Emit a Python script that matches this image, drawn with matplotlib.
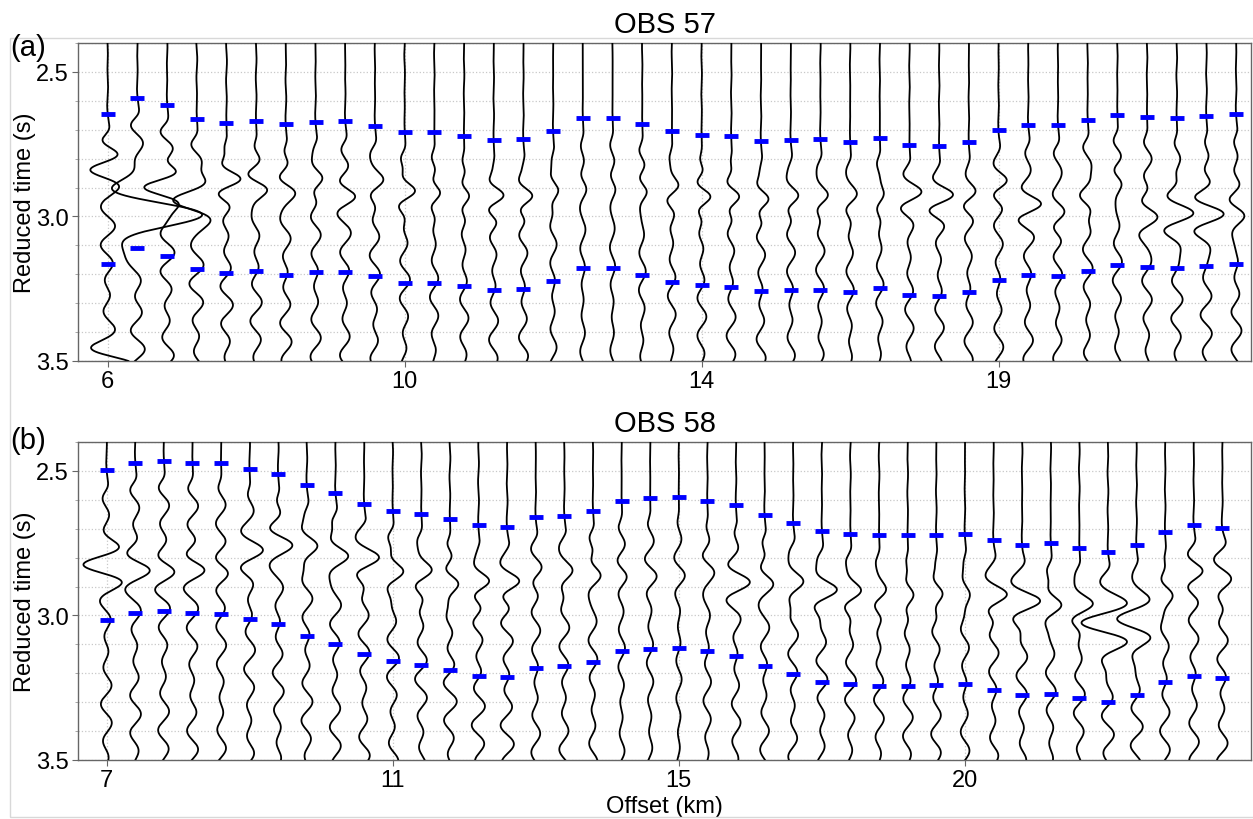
import numpy as np
import matplotlib
matplotlib.use('Agg')
import matplotlib.pyplot as plt
from matplotlib.patches import Rectangle

plt.rcParams['font.family'] = ['Liberation Sans', 'DejaVu Sans']

# ---- OBS 57 (panel a) ----
a_title = 'OBS 57'
a_tick_pos = [0, 10, 20, 30]
a_tick_lab = ['6', '10', '14', '19']
a_pick_up = [2.645, 2.589, 2.615, 2.662, 2.675, 2.670, 2.681, 2.672, 2.671, 2.686,
             2.709, 2.709, 2.721, 2.735, 2.731, 2.705, 2.659, 2.659, 2.681, 2.705,
             2.717, 2.722, 2.738, 2.734, 2.733, 2.742, 2.727, 2.753, 2.755, 2.741,
             2.701, 2.682, 2.684, 2.667, 2.649, 2.655, 2.659, 2.651, 2.645]
a_pick_lo = [3.165, 3.108, 3.136, 3.181, 3.194, 3.190, 3.201, 3.191, 3.191, 3.206,
             3.229, 3.229, 3.242, 3.255, 3.251, 3.224, 3.179, 3.179, 3.201, 3.226,
             3.237, 3.243, 3.257, 3.254, 3.254, 3.262, 3.247, 3.273, 3.275, 3.261,
             3.221, 3.202, 3.205, 3.188, 3.169, 3.175, 3.179, 3.171, 3.164]
# main arrival of each trace: time (s), amplitude (trace spacings), envelope width, period
a_main_t = [2.836, 3.00, 2.898, 2.943, 2.874, 2.90, 2.91, 2.87, 2.93, 2.88,
            2.915, 2.92, 2.93, 2.93, 2.93, 2.91, 2.90, 2.90, 2.91, 2.90,
            2.93, 2.93, 2.94, 2.93, 2.93, 2.93, 2.93, 2.92, 2.93, 2.92,
            2.88, 2.96, 2.99, 2.93, 2.88, 3.00, 2.99, 2.99, 2.99]
a_main_amp = [-0.55, 2.1, -0.85, -0.95, 0.65, 0.40, 0.30, 0.30, 0.25, 0.28,
              0.45, 0.33, 0.32, 0.45, 0.40, 0.22, 0.10, 0.10, 0.22, 0.28,
              0.45, 0.40, 0.35, 0.30, 0.27, 0.20, 0.20, 0.30, 0.45, 0.25,
              0.30, 0.35, 0.28, -0.30, 0.22, 0.42, 0.70, 0.76, 0.38]
a_main_w = [0.075, 0.11, 0.075, 0.09, 0.075, 0.075, 0.075, 0.075, 0.075, 0.075,
            0.075, 0.075, 0.075, 0.075, 0.075, 0.075, 0.075, 0.075, 0.075, 0.075,
            0.075, 0.075, 0.075, 0.075, 0.075, 0.075, 0.075, 0.075, 0.075, 0.075,
            0.075, 0.075, 0.10, 0.075, 0.075, 0.10, 0.11, 0.11, 0.10]
a_main_T = [0.13, 0.25, 0.13, 0.15, 0.13, 0.13, 0.13, 0.13, 0.13, 0.13,
            0.13, 0.13, 0.13, 0.13, 0.13, 0.13, 0.13, 0.13, 0.13, 0.13,
            0.13, 0.13, 0.13, 0.13, 0.13, 0.13, 0.13, 0.13, 0.13, 0.13,
            0.13, 0.13, 0.13, 0.13, 0.13, 0.13, 0.13, 0.13, 0.13]
a_coda = [0.25, 0.25, 0.25, 0.25, 0.22, 0.20, 0.20, 0.18, 0.18, 0.18,
          0.18, 0.15, 0.15, 0.16, 0.16, 0.12, 0.09, 0.09, 0.12, 0.14,
          0.16, 0.16, 0.16, 0.15, 0.15, 0.13, 0.13, 0.15, 0.16, 0.15,
          0.16, 0.17, 0.17, 0.17, 0.16, 0.17, 0.20, 0.20, 0.18]
# late arrival at the bottom of the first trace: trace, time, amplitude
a_late = [(0, 3.51, 0.65)]

# ---- OBS 58 (panel b) ----
b_title = 'OBS 58'
b_tick_pos = [0, 10, 20, 30]
b_tick_lab = ['7', '11', '15', '20']
b_pick_up = [2.497, 2.471, 2.466, 2.472, 2.472, 2.493, 2.510, 2.550, 2.577, 2.615,
             2.638, 2.650, 2.667, 2.688, 2.693, 2.661, 2.655, 2.638, 2.604, 2.595,
             2.591, 2.604, 2.619, 2.652, 2.681, 2.709, 2.718, 2.723, 2.723, 2.720,
             2.717, 2.739, 2.757, 2.751, 2.765, 2.779, 2.756, 2.710, 2.687, 2.696]
b_pick_lo = [3.017, 2.991, 2.986, 2.992, 2.994, 3.013, 3.031, 3.070, 3.099, 3.134,
             3.158, 3.170, 3.188, 3.208, 3.212, 3.181, 3.174, 3.160, 3.124, 3.115,
             3.111, 3.124, 3.139, 3.174, 3.202, 3.229, 3.237, 3.243, 3.243, 3.240,
             3.237, 3.259, 3.276, 3.272, 3.285, 3.299, 3.276, 3.229, 3.208, 3.215]
b_main_t = [2.825, 2.84, 2.85, 2.84, 2.85, 2.78, 2.75, 2.758, 2.793, 2.805,
            2.85, 2.85, 2.885, 2.885, 2.885, 2.84, 2.85, 2.86, 2.86, 2.86,
            2.86, 2.84, 2.885, 2.885, 2.885, 2.914, 2.92, 2.92, 2.93, 2.925,
            2.925, 2.93, 2.953, 2.965, 2.965, 3.03, 3.016, 2.925, 2.85, 2.88]
b_main_amp = [-0.65, 0.37, 0.25, 0.38, 0.20, 0.30, 0.40, 0.45, 0.50, 0.50,
              0.52, 0.50, 0.50, 0.56, 0.55, 0.20, 0.30, 0.34, 0.15, 0.15,
              0.12, 0.20, 0.34, 0.27, 0.40, 0.60, 0.47, 0.34, 0.38, 0.37,
              0.26, 0.50, 0.65, 0.47, 0.57, -0.95, -0.84, 0.37, 0.27, 0.30]
b_main_w = [0.08, 0.08, 0.08, 0.08, 0.08, 0.08, 0.08, 0.08, 0.08, 0.08,
            0.08, 0.08, 0.08, 0.08, 0.08, 0.08, 0.08, 0.08, 0.08, 0.08,
            0.08, 0.08, 0.08, 0.08, 0.08, 0.08, 0.08, 0.08, 0.08, 0.08,
            0.08, 0.08, 0.09, 0.08, 0.08, 0.12, 0.12, 0.08, 0.08, 0.11]
b_main_T = [0.14] * 40
b_coda = [0.20, 0.20, 0.20, 0.20, 0.18, 0.20, 0.20, 0.20, 0.20, 0.20,
          0.22, 0.22, 0.24, 0.24, 0.24, 0.16, 0.18, 0.16, 0.12, 0.12,
          0.10, 0.14, 0.16, 0.16, 0.18, 0.20, 0.20, 0.18, 0.18, 0.18,
          0.16, 0.18, 0.20, 0.18, 0.20, 0.22, 0.22, 0.18, 0.18, 0.20]
b_late = []

T_MIN, T_MAX = 2.4, 3.5
t = np.linspace(T_MIN, T_MAX, 1501)


def wavelet(tc, amp, width, period):
    return amp * np.exp(-((t - tc) / width) ** 2) * np.cos(2 * np.pi * (t - tc) / period)


def trace_wave(i, pick, tc, amp, width, period, coda):
    # almost flat before the pick, ringing coda after it
    env = 0.07 + 0.93 * 0.5 * (1 + np.tanh((t - pick - 0.06) / 0.03))
    ring = (0.65 * np.sin(2 * np.pi * (t - pick) / 0.12)
            + 0.35 * np.sin(2 * np.pi * (t - pick) / 0.17 + 0.8 * i))
    return wavelet(tc, amp, width, period) + coda * env * ring


def draw_panel(ax, title, pick_up, pick_lo, main_t, main_amp, main_w, main_T,
               coda, late, tick_pos, tick_lab, xmax):
    n = len(pick_up)
    for i in range(n):
        w = trace_wave(i, pick_up[i], main_t[i], main_amp[i], main_w[i], main_T[i], coda[i])
        for (k, tl, al) in late:
            if k == i:
                w = w + wavelet(tl, al, 0.07, 0.13)
        ax.plot(i + w, t, color='black', lw=1.3, zorder=3)

    idx = np.arange(n)
    ax.plot(idx, pick_up, ls='none', marker='_', ms=10, mew=3.5, color='#0000ff', zorder=4)
    ax.plot(idx, pick_lo, ls='none', marker='_', ms=10, mew=3.5, color='#0000ff', zorder=4)

    ax.set_xlim(-1, xmax)
    ax.set_ylim(T_MAX, T_MIN)
    ax.set_xticks(tick_pos)
    ax.set_xticklabels(tick_lab)
    ax.set_yticks([2.5, 3.0, 3.5])
    ax.set_yticklabels(['2.5', '3.0', '3.5'])
    ax.set_yticks(np.arange(2.4, 3.51, 0.1), minor=True)
    ax.grid(True, which='both', axis='y', ls=':', color='#c8c8c8', lw=0.9, zorder=0)
    ax.grid(True, which='major', axis='x', ls=':', color='#c8c8c8', lw=0.9, zorder=0)
    ax.tick_params(axis='both', which='major', labelsize=17, length=4, pad=2.5,
                   color='#666666')
    ax.tick_params(axis='y', which='minor', length=2.5, color='#999999')
    for s in ax.spines.values():
        s.set_color('#666666')
        s.set_linewidth(1.0)
    ax.set_title(title, fontsize=21, pad=8)
    ax.set_ylabel('Reduced time (s)', fontsize=17)
    ax.yaxis.set_label_coords(-0.036, 0.5)


fig = plt.figure(figsize=(12.53, 8.2), dpi=100)
ax1 = fig.add_axes([78 / 1253, 1 - 362 / 820, 1173 / 1253, 318 / 820])
ax2 = fig.add_axes([78 / 1253, 1 - 761 / 820, 1173 / 1253, 318 / 820])

draw_panel(ax1, a_title, a_pick_up, a_pick_lo, a_main_t, a_main_amp, a_main_w,
           a_main_T, a_coda, a_late, a_tick_pos, a_tick_lab, 38.5)
draw_panel(ax2, b_title, b_pick_up, b_pick_lo, b_main_t, b_main_amp, b_main_w,
           b_main_T, b_coda, b_late, b_tick_pos, b_tick_lab, 40.0)
ax2.set_xlabel('Offset (km)', fontsize=17, labelpad=3)

fig.text(10 / 1253, 1 - 48 / 820, '(a)', fontsize=21, ha='left', va='center')
fig.text(10 / 1253, 1 - 441 / 820, '(b)', fontsize=21, ha='left', va='center')

# light frame around the figure
fig.patches.append(Rectangle((10 / 1253, 2 / 820), 1.1, 1 - 41 / 820, transform=fig.transFigure,
                             fill=False, edgecolor='#d8d8d8', lw=1.0, zorder=0))

fig.savefig('out.png', dpi=100)
